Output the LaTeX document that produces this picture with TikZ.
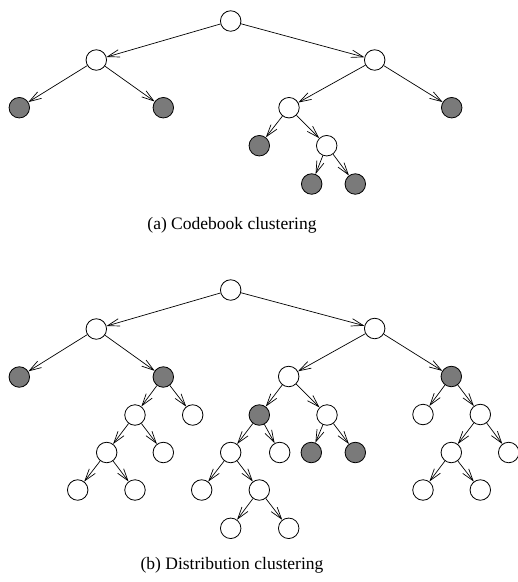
\documentclass[tikz,border=0pt]{standalone}
\usepackage{fontspec}
\setmainfont{Liberation Serif}
\usetikzlibrary{arrows.meta}
\begin{document}
\begin{tikzpicture}[x=1pt,y=-1pt,
  vert/.style={circle,draw,line width=0.8pt,minimum size=20.5pt,inner sep=0pt,fill=white},
  leaf/.style={vert,fill=black!52},
  edge/.style={draw,line width=0.7pt,-{Straight Barb[length=12pt,width=7.5pt,line width=0.7pt]}},
  caption/.style={font=\fontsize{17.5}{20}\selectfont,inner sep=0pt}]
\useasboundingbox (0,0) rectangle (518,582);

% (a) codebook tree
\node[vert] (r)    at (230.7,21) {};
\node[vert] (l)    at (96.3,60) {};
\node[vert] (rr)   at (374.7,60) {};
\node[leaf] (ll)   at (19.3,107.7) {};
\node[leaf] (lr)   at (163.3,107.7) {};
\node[vert] (rl)   at (289,107.7) {};
\node[leaf] (rrr)  at (451.7,107.7) {};
\node[leaf] (rll)  at (259.3,145.7) {};
\node[vert] (rlr)  at (326.7,145.7) {};
\node[leaf] (rlrl) at (311.7,184) {};
\node[leaf] (rlrr) at (355.3,184) {};
\foreach \p/\c in {r/l,r/rr,l/ll,l/lr,rr/rl,rr/rrr,rl/rll,rl/rlr,rlr/rlrl,rlr/rlrr}
  \path[edge] (\p) -- (\c);
\node[caption] (capa) at (232,225) {(a) Codebook clustering};

% (b) distribution tree
\node[vert] (R)      at (230.7,290) {};
\node[vert] (A)      at (96.3,329) {};
\node[vert] (B)      at (374.7,328.5) {};
\node[leaf] (A1)     at (19.3,377) {};
\node[leaf] (A2)     at (163.3,377) {};
\node[vert] (A21)    at (135,415) {};
\node[vert] (A22)    at (192.7,415) {};
\node[vert] (A211)   at (106.7,452.5) {};
\node[vert] (A212)   at (163.3,452.5) {};
\node[vert] (A2111)  at (77.7,490) {};
\node[vert] (A2112)  at (135,490) {};
\node[vert] (B1)     at (288.7,376.5) {};
\node[leaf] (B2)     at (451.3,376.5) {};
\node[leaf] (B11)    at (259.3,415) {};
\node[vert] (B12)    at (327,415) {};
\node[vert] (B111)   at (230.7,452.5) {};
\node[vert] (B112)   at (279.7,452.5) {};
\node[vert] (B1111)  at (201.7,490) {};
\node[vert] (B1112)  at (259.3,490) {};
\node[vert] (B11121) at (230.7,528.3) {};
\node[vert] (B11122) at (288.7,528.3) {};
\node[leaf] (B121)   at (311.3,452.5) {};
\node[leaf] (B122)   at (355.3,452.5) {};
\node[vert] (B21)    at (423,414.5) {};
\node[vert] (B22)    at (480.3,414.5) {};
\node[vert] (B221)   at (451.3,452.5) {};
\node[vert] (B222)   at (508.7,452.5) {};
\node[vert] (B2211)  at (423,490) {};
\node[vert] (B2212)  at (480.3,490) {};
\foreach \p/\c in {R/A,R/B,A/A1,A/A2,A2/A21,A2/A22,A21/A211,A21/A212,A211/A2111,A211/A2112,
  B/B1,B/B2,B1/B11,B1/B12,B11/B111,B11/B112,B111/B1111,B111/B1112,B1112/B11121,B1112/B11122,
  B12/B121,B12/B122,B2/B21,B2/B22,B22/B221,B22/B222,B221/B2211,B221/B2212}
  \path[edge] (\p) -- (\c);
\node[caption] (capb) at (232,565) {(b) Distribution clustering};
\end{tikzpicture}
\end{document}
